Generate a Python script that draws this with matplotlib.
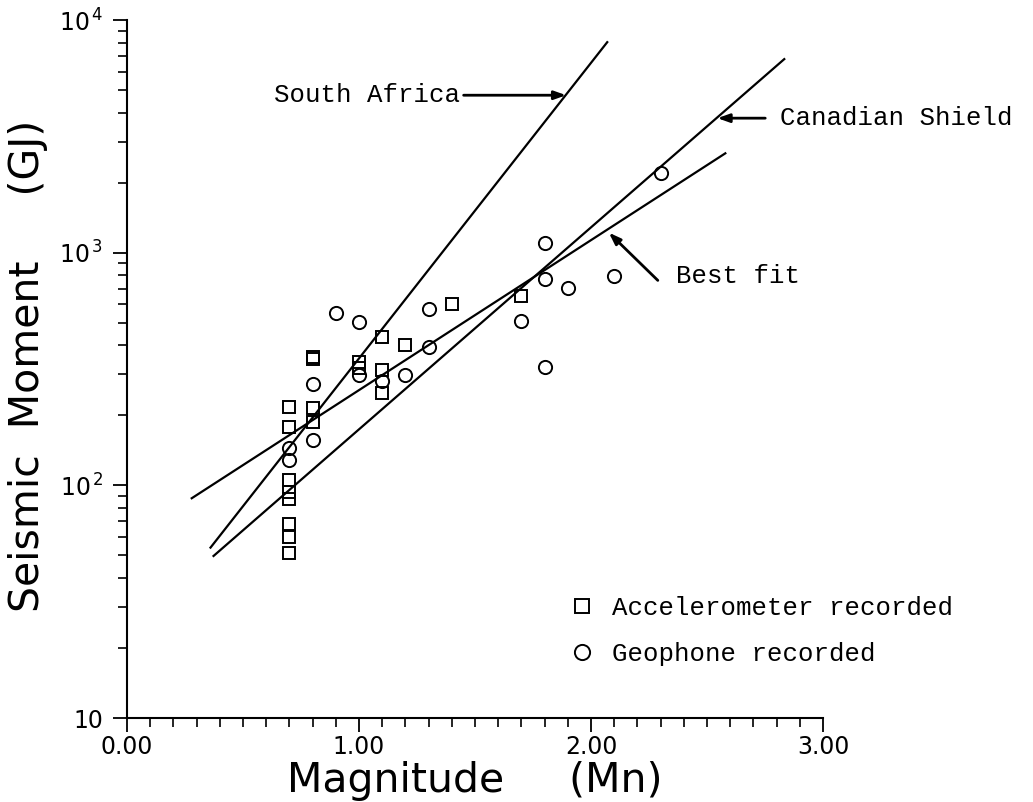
import matplotlib
matplotlib.use("Agg")
import matplotlib.pyplot as plt
from matplotlib.ticker import MultipleLocator, LogLocator, NullFormatter

# Данные: магнитуда и сейсмический момент (ГДж)
accel_m = [0.7, 0.7, 0.7, 0.7, 0.7, 0.7, 0.7, 0.7,
           0.8, 0.8, 0.8, 0.8, 1.0, 1.0, 1.1, 1.1, 1.1, 1.2, 1.4, 1.7]
accel_e = [217, 179, 105, 93.5, 87, 68, 60, 51,
           350, 357, 215, 188, 340, 319, 433, 313, 250, 400, 601, 652]

geo_m = [0.7, 0.7, 0.8, 0.8, 0.9, 1.0, 1.0, 1.1, 1.2, 1.3, 1.3,
         1.7, 1.8, 1.8, 1.8, 1.9, 2.1, 2.3]
geo_e = [144, 129, 272, 157, 548, 506, 297, 280, 297, 571, 395,
         510, 1105, 774, 323, 708, 791, 2190]

# Прямые (концы отрезков)
sa_m = [0.36, 2.07]
sa_e = [54, 8030]
cs_m = [0.373, 2.833]
cs_e = [49.7, 6790]
bf_m = [0.279, 2.579]
bf_e = [88, 2673]

y_ticks = [10, 100, 1000, 10000]
y_labels = ["10", r"$\mathregular{10^{\,2}}$", r"$\mathregular{10^{\,3}}$",
            r"$\mathregular{10^{\,4}}$"]
x_ticks = [0, 1, 2, 3]
x_labels = ["0.00", "1.00", "2.00", "3.00"]

sans = ["DejaVu Sans"]
mono = ["Liberation Mono", "DejaVu Sans Mono"]

fig = plt.figure(figsize=(10.33, 8.02), dpi=100)
ax = fig.add_axes([127 / 1033, 84 / 802, 696 / 1033, 698 / 802])

# Линии
ax.plot(sa_m, sa_e, "k-", lw=1.6)
ax.plot(cs_m, cs_e, "k-", lw=1.6)
ax.plot(bf_m, bf_e, "k-", lw=1.6)

# Точки
ax.plot(accel_m, accel_e, "ks", mfc="none", ms=8.5, mew=1.4, ls="none",
        label="Accelerometer recorded")
ax.plot(geo_m, geo_e, "ko", mfc="none", ms=9.5, mew=1.4, ls="none",
        label="Geophone recorded")

ax.set_yscale("log")
ax.set_xlim(0, 3)
ax.set_ylim(10, 1e4)

# Оси
for s in ["top", "right"]:
    ax.spines[s].set_visible(False)
for s in ["left", "bottom"]:
    ax.spines[s].set_linewidth(1.5)

ax.set_xticks(x_ticks)
ax.set_xticklabels(x_labels, family=sans, fontsize=17)
ax.xaxis.set_minor_locator(MultipleLocator(0.1))
ax.set_yticks(y_ticks)
ax.set_yticklabels(y_labels, family=sans, fontsize=17)
ax.yaxis.set_minor_locator(LogLocator(base=10, subs=range(2, 10)))
ax.yaxis.set_minor_formatter(NullFormatter())
ax.tick_params(which="major", direction="out", length=10, width=1.3, pad=2)
ax.tick_params(which="minor", direction="out", length=6.5, width=1.2)
ax.tick_params(axis="y", which="major", pad=7)

ax.set_xlabel("Magnitude     (Mn)", family=sans, fontsize=29.5)
ax.set_ylabel("Seismic  Moment     (GJ)", family=sans, fontsize=29.5)
ax.xaxis.set_label_coords(0.5, -0.062)
ax.yaxis.set_label_coords(-0.113, 0.505)

# Подписи со стрелками
arrow = dict(arrowstyle="-|>,head_length=0.7,head_width=0.25", lw=2, color="k",
             shrinkA=0, shrinkB=0)
ax.text(0.635, 4750, "South Africa", family=mono, fontsize=18.5,
        ha="left", va="center")
ax.annotate("", xy=(1.893, 4750), xytext=(1.451, 4750), arrowprops=arrow)
ax.text(2.815, 3785, "Canadian Shield", family=mono, fontsize=18.5,
        ha="left", va="center")
ax.annotate("", xy=(2.545, 3785), xytext=(2.751, 3785), arrowprops=arrow)
ax.text(2.365, 790, "Best fit", family=mono, fontsize=18.5,
        ha="left", va="center")
ax.annotate("", xy=(2.077, 1219), xytext=(2.288, 760), arrowprops=arrow)

ax.legend(loc="upper left", bbox_to_anchor=(0.635, 0.175), frameon=False,
          prop={"family": mono, "size": 18.5}, numpoints=1, handlelength=1.0,
          handletextpad=0.67, labelspacing=0.86, borderpad=0, borderaxespad=0,
          markerscale=1.15)

fig.savefig("out.png", dpi=100)
